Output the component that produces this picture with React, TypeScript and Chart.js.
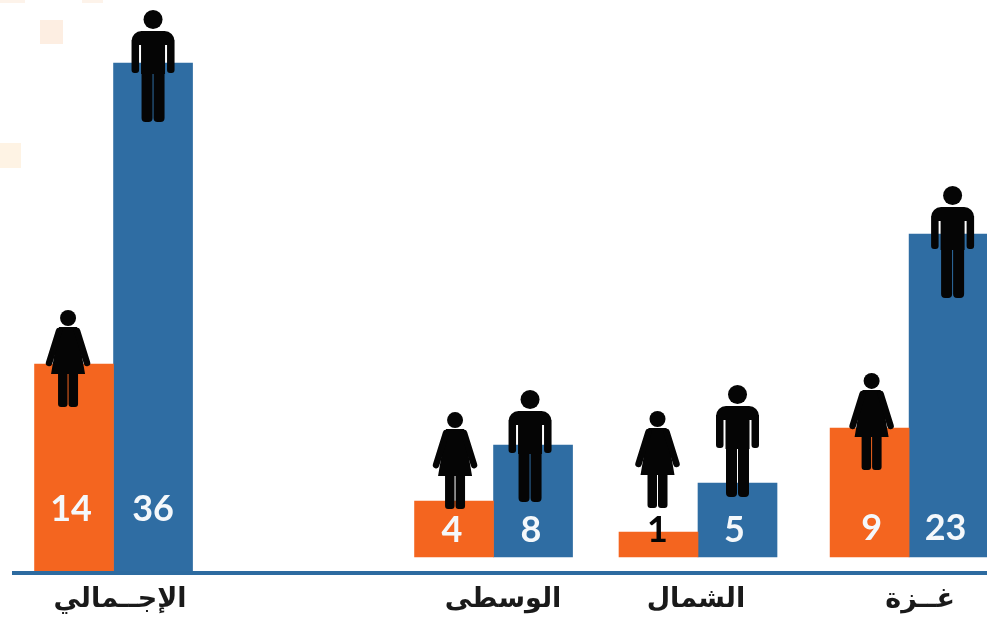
import React, { useEffect, useRef } from "react";
import { Chart, registerables } from "chart.js";

Chart.register(...registerables);

// Data: group names, printed values, and the bar extents
const groupNames = ["الإجــمالي", "الوسطى", "الشمال", "غــزة"];
const femaleCounts = [14, 4, 1, 9];
const maleCounts = [36, 8, 5, 23];
const groupCentres = [0.63, 3.035, 4.329, 5.665];
const labelCentres = [0.671, 3.095, 4.316, 5.734];
const barBases = [0, 1.14, 1.14, 1.14];
const femaleBarTops = [14.93, 5.14, 2.93, 10.36];
const maleBarTops = [36.43, 9.14, 6.43, 24.21];

const ORANGE = "#f4651f";
const BLUE = "#2f6da3";
const AXIS = "#2d6ba0";
const FIGURE = "#050505";
const NUMBER = "#f4f8fb";

// Figure placement relative to each bar's top and centre
const manRise = [53, 55, 98, 48];
const manShift = [0, -3, 0, 4];
const womanRise = [54, 89, 121, 55];
const womanShift = [-6, 1, -1, 2];
const numberRise = [64, 27, 27, 29];
const femaleNumberShift = [-3, -2, -1, 2];
const maleNumberShift = [0, -2, -3, -3];

function drawMan(ctx: CanvasRenderingContext2D, cx: number, top: number) {
  ctx.save();
  ctx.translate(cx - 21.5, top);
  ctx.fillStyle = FIGURE;
  ctx.beginPath();
  ctx.arc(21.5, 9.5, 9.5, 0, Math.PI * 2);
  ctx.fill();
  ctx.beginPath();
  ctx.roundRect(0, 21, 43, 14, [10, 10, 0, 0]);
  ctx.roundRect(0, 30, 7.5, 33, [0, 0, 3, 3]);
  ctx.roundRect(35.5, 30, 7.5, 33, [0, 0, 3, 3]);
  ctx.rect(9.5, 30, 24, 34);
  ctx.roundRect(10, 60, 11, 52, [0, 0, 4, 4]);
  ctx.roundRect(22, 60, 11, 52, [0, 0, 4, 4]);
  ctx.fill();
  ctx.restore();
}

function drawWoman(ctx: CanvasRenderingContext2D, cx: number, top: number) {
  ctx.save();
  ctx.translate(cx - 23, top);
  ctx.fillStyle = FIGURE;
  ctx.strokeStyle = FIGURE;
  ctx.beginPath();
  ctx.arc(23, 8, 8, 0, Math.PI * 2);
  ctx.fill();
  ctx.beginPath();
  ctx.moveTo(14, 17);
  ctx.lineTo(32, 17);
  ctx.lineTo(40, 64);
  ctx.lineTo(6, 64);
  ctx.closePath();
  ctx.roundRect(13, 60, 9.5, 37, [0, 0, 3, 3]);
  ctx.roundRect(23.5, 60, 9.5, 37, [0, 0, 3, 3]);
  ctx.fill();
  ctx.lineWidth = 6.5;
  ctx.lineCap = "round";
  ctx.beginPath();
  ctx.moveTo(14, 21);
  ctx.lineTo(4, 53);
  ctx.moveTo(32, 21);
  ctx.lineTo(42, 53);
  ctx.stroke();
  ctx.restore();
}

const scanSpots = {
  id: "scanSpots",
  beforeDraw(chart: any) {
    const ctx = chart.ctx;
    ctx.save();
    ctx.fillStyle = "#fdeee2";
    ctx.fillRect(40, 20, 23, 24);
    ctx.fillStyle = "#fef3e4";
    ctx.fillRect(0, 143, 21, 25);
    ctx.fillStyle = "#fdf3ea";
    ctx.fillRect(0, 0, 25, 3);
    ctx.fillRect(82, 0, 21, 3);
    ctx.restore();
  },
};

const figuresAndNumbers = {
  id: "figuresAndNumbers",
  afterDatasetsDraw(chart: any) {
    const ctx = chart.ctx;
    const female = chart.getDatasetMeta(0).data;
    const male = chart.getDatasetMeta(1).data;
    ctx.save();
    ctx.font = "700 36px Lato";
    ctx.textAlign = "center";
    ctx.textBaseline = "middle";
    groupNames.forEach((_, i) => {
      ctx.fillStyle = femaleCounts[i] === 1 ? FIGURE : NUMBER;
      ctx.fillText(String(femaleCounts[i]), female[i].x + femaleNumberShift[i], female[i].base - numberRise[i]);
      ctx.fillStyle = NUMBER;
      ctx.fillText(String(maleCounts[i]), male[i].x + maleNumberShift[i], male[i].base - numberRise[i]);
    });
    ctx.restore();
    groupNames.forEach((_, i) => {
      drawWoman(ctx, female[i].x + womanShift[i], female[i].y - womanRise[i]);
      drawMan(ctx, male[i].x + manShift[i], male[i].y - manRise[i]);
    });
  },
};

export default function App() {
  const ref = useRef<HTMLCanvasElement>(null);
  useEffect(() => {
    const chart = new Chart(ref.current!, {
      type: "bar",
      data: {
        datasets: [
          {
            label: "إناث",
            data: groupCentres.map((x, i) => ({ x, y: [barBases[i], femaleBarTops[i]] })),
            backgroundColor: ORANGE,
            barThickness: 79,
          },
          {
            label: "ذكور",
            data: groupCentres.map((x, i) => ({ x, y: [barBases[i], maleBarTops[i]] })),
            backgroundColor: BLUE,
            barThickness: 79,
          },
        ],
      } as any,
      options: {
        animation: false,
        responsive: false,
        layout: { padding: { left: 14, right: 0, top: 0, bottom: 0 } },
        plugins: { legend: { display: false }, tooltip: { enabled: false } },
        scales: {
          x: {
            type: "linear",
            offset: false,
            min: 0,
            max: 6.158,
            grid: { display: false, drawTicks: false, offset: false },
            border: { display: true, color: AXIS, width: 4, z: 1 },
            afterBuildTicks: (scale: any) => {
              scale.ticks = labelCentres.map((value) => ({ value }));
            },
            afterFit: (scale: any) => {
              scale.height = 57;
            },
            ticks: {
              autoSkip: false,
              maxRotation: 0,
              padding: 11,
              color: "#1a1a1a",
              font: { family: "'DejaVu Sans'", weight: "bold", size: 27 },
              callback: (_v: any, i: number) => groupNames[i],
            },
          },
          y: { display: false, min: 0, max: 40.93 },
        },
      } as any,
      plugins: [scanSpots, figuresAndNumbers],
    });
    return () => chart.destroy();
  }, []);
  return (
    <div style={{ position: "fixed", left: 0, top: 0, width: 987, height: 630, background: "#fff" }}>
      <canvas ref={ref} width={987} height={630} style={{ display: "block", filter: "blur(0.6px)" }} />
    </div>
  );
}
